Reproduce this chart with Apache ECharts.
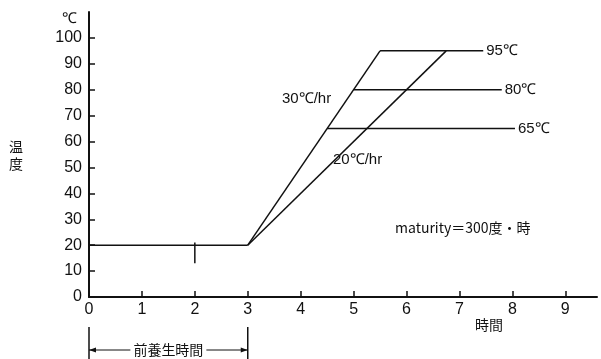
<!DOCTYPE html>
<html>
<head>
<meta charset="utf-8">
<script src="https://cdn.jsdelivr.net/npm/echarts@6/dist/echarts.min.js"></script>
<style>
  html, body { margin: 0; padding: 0; background: #fff; }
  #chart { width: 601px; height: 359px; }
</style>
</head>
<body>
<div id="chart"></div>
<script>
// Pre-curing period (前養生): time [h], temperature [℃]
const preTime = [0, 3];
const preTemp = [20, 20];
// Heating ramps: 30℃/hr and 20℃/hr
const ramp30Time = [3, 5.5];
const ramp30Temp = [20, 95];
const ramp20Time = [3, 6.75];
const ramp20Temp = [20, 95];
// Holding stages: start time, end time, temperature
const holdStart = [5.5, 5.0, 4.5];
const holdEnd = [7.45, 7.8, 8.05];
const holdTemp = [95, 80, 65];
// Short vertical marker at 2 h
const markTime = [2, 2];
const markTemp = [21, 13];
// Axis ticks
const xTicks = [0, 1, 2, 3, 4, 5, 6, 7, 8, 9];
const yTicks = [0, 10, 20, 30, 40, 50, 60, 70, 80, 90, 100];

const NUM_FONT = "'Liberation Sans Narrow', 'Liberation Sans', Arial, sans-serif";
const JP_FONT = "'Noto Sans CJK JP', 'Liberation Sans Narrow', sans-serif";
const INK = '#111';

const pairs = (xs, ys) => xs.map((x, i) => [x, ys[i]]);

const lineSeries = (name, data, extra) => Object.assign({
  name: name,
  type: 'line',
  data: data,
  symbol: 'none',
  lineStyle: { color: INK, width: 1.5 },
  silent: true
}, extra || {});

const series = [
  lineSeries('前養生', pairs(preTime, preTemp)),
  lineSeries('30℃/hr', pairs(ramp30Time, ramp30Temp)),
  lineSeries('20℃/hr', pairs(ramp20Time, ramp20Temp)),
  lineSeries('mark', pairs(markTime, markTemp))
];
holdTemp.forEach((t, i) => {
  series.push(lineSeries(t + '℃', [[holdStart[i], t], [holdEnd[i], t]], {
    endLabel: {
      show: true,
      formatter: t + '℃',
      color: INK,
      fontFamily: NUM_FONT,
      fontSize: 15,
      distance: 3
    }
  }));
});

const chart = echarts.init(document.getElementById('chart'), null, { renderer: 'canvas' });

const option = {
  animation: false,
  backgroundColor: '#fff',
  grid: { left: 89, right: 4, top: 12, bottom: 62, containLabel: false },
  xAxis: {
    type: 'value',
    min: 0,
    max: 9.6,
    splitLine: { show: false },
    axisLine: { lineStyle: { color: INK, width: 2 } },
    axisTick: { inside: true, length: 6, customValues: xTicks, lineStyle: { color: INK, width: 1.5 } },
    axisLabel: { customValues: xTicks, color: INK, fontFamily: NUM_FONT, fontSize: 16, margin: 5 }
  },
  yAxis: {
    type: 'value',
    min: 0,
    max: 110,
    interval: 10,
    splitLine: { show: false },
    axisLine: { lineStyle: { color: INK, width: 2 } },
    axisTick: { inside: true, length: 6, customValues: yTicks, lineStyle: { color: INK, width: 1.5 } },
    axisLabel: { customValues: yTicks, color: INK, fontFamily: NUM_FONT, fontSize: 16, margin: 7 }
  },
  series: series
};
chart.setOption(option);

// Annotations; the pre-curing bracket is placed from the axis scale
const x0 = chart.convertToPixel({ xAxisIndex: 0 }, preTime[0]);
const x3 = chart.convertToPixel({ xAxisIndex: 0 }, preTime[1]);
const yArrow = 350;
const textHalf = 38;
const mid = (x0 + x3) / 2;
const arrowStyle = { stroke: INK, lineWidth: 1 };

chart.setOption({
  graphic: [
    { type: 'text', left: 62, top: 11, style: { text: '℃', font: '15px ' + NUM_FONT, fill: INK } },
    { type: 'text', left: 9, top: 138, style: { text: '温\n度', font: '14px ' + JP_FONT, fill: INK, lineHeight: 17 } },
    { type: 'text', left: 282, top: 91, style: { text: '30℃/hr', font: '15px ' + NUM_FONT, fill: INK } },
    { type: 'text', left: 333, top: 152, style: { text: '20℃/hr', font: '15px ' + NUM_FONT, fill: INK } },
    { type: 'text', left: 395, top: 221, style: { text: 'maturity＝300度・時', font: '14px ' + JP_FONT, fill: INK } },
    { type: 'text', left: 475, top: 318, style: { text: '時間', font: '14px ' + JP_FONT, fill: INK } },
    // bracket for the pre-curing period
    { type: 'line', shape: { x1: x0, y1: 327, x2: x0, y2: 359 }, style: { stroke: INK, lineWidth: 1.5 } },
    { type: 'line', shape: { x1: x3, y1: 327, x2: x3, y2: 359 }, style: { stroke: INK, lineWidth: 1.5 } },
    { type: 'line', shape: { x1: x0, y1: yArrow, x2: mid - textHalf, y2: yArrow }, style: arrowStyle },
    { type: 'line', shape: { x1: mid + textHalf, y1: yArrow, x2: x3, y2: yArrow }, style: arrowStyle },
    { type: 'polygon', shape: { points: [[x0, yArrow], [x0 + 7, yArrow - 2.5], [x0 + 7, yArrow + 2.5]] }, style: { fill: INK } },
    { type: 'polygon', shape: { points: [[x3, yArrow], [x3 - 7, yArrow - 2.5], [x3 - 7, yArrow + 2.5]] }, style: { fill: INK } },
    { type: 'text', x: mid, y: yArrow, style: { text: '前養生時間', font: '14px ' + JP_FONT, fill: INK, align: 'center', verticalAlign: 'middle' } }
  ]
});
</script>
</body>
</html>
